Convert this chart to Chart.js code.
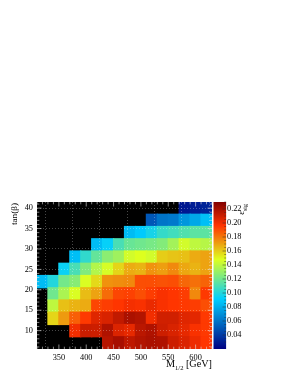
<!DOCTYPE html>
<html><head><meta charset="utf-8">
<script src="https://cdn.jsdelivr.net/npm/chart.js@4"></script>
<style>html,body{margin:0;padding:0;background:#fff}</style>
</head><body>
<canvas id="c" width="287" height="372"></canvas>
<script>
// ---- data ----
const mHalf = [320,340,360,380,400,420,440,460,480,500,520,540,560,580,600,620];
const tanBeta = [40,37,34,31,28,25,22,19,16,13,10,7];
const n = null;
const effTan40 = [n,n,n,n,n,n,n,n,n,n,n,n,n,0.028,0.030,0.032];
const effTan37 = [n,n,n,n,n,n,n,n,n,n,0.050,0.060,0.062,0.072,0.078,0.086];
const effTan34 = [n,n,n,n,n,n,n,n,0.085,0.090,0.097,0.105,0.108,0.112,0.115,0.115];
const effTan31 = [n,n,n,n,n,0.085,0.093,0.110,0.118,0.120,0.122,0.125,0.133,0.145,0.140,0.138];
const effTan28 = [n,n,n,0.086,0.104,0.117,0.127,0.132,0.145,0.148,0.145,0.160,0.162,0.163,0.168,0.170];
const effTan25 = [n,n,0.094,0.110,0.124,0.137,0.146,0.158,0.168,0.166,0.174,0.171,0.176,0.169,0.166,0.170];
const effTan22 = [0.085,0.100,0.121,0.126,0.147,0.157,0.174,0.175,0.176,0.190,0.190,0.189,0.190,0.184,0.182,0.185];
const effTan19 = [n,0.120,0.135,0.147,0.164,0.170,0.183,0.192,0.193,0.190,0.194,0.198,0.196,0.194,0.176,0.195];
const effTan16 = [n,0.140,0.163,0.166,0.168,0.192,0.194,0.196,0.199,0.198,0.202,0.198,0.196,0.195,0.194,0.190];
const effTan13 = [n,0.158,0.172,0.186,0.195,0.205,0.207,0.213,0.219,0.217,0.200,0.209,0.209,0.205,0.204,0.195];
const effTan10 = [n,n,n,0.200,0.211,0.210,0.218,0.206,0.203,0.215,0.218,0.210,0.207,0.203,0.198,0.195];
const effTan7  = [n,n,n,n,n,n,0.216,0.220,0.214,0.217,0.219,0.218,0.210,0.206,0.201,0.196];
const effRowsList = [effTan40,effTan37,effTan34,effTan31,effTan28,effTan25,effTan22,effTan19,effTan16,effTan13,effTan10,effTan7];
const xTicks = [350,400,450,500,550,600];
const yTicks = [10,15,20,25,30,35,40];
const zTicks = [0.04,0.06,0.08,0.10,0.12,0.14,0.16,0.18,0.20,0.22];
const xRange = [310,630];
const yRange = [5.5,41.5];
const zRange = [0.02,0.23];
const xBin = 20, yBin = 3;

// ---- palette ----
const stops=[0,.34,.61,.84,1], PR=[0,0,.87,1,.51], PG=[0,.81,1,.2,0], PB=[.51,1,.12,0,0];
function pal(f){
  f=Math.max(0,Math.min(1,f)); let i=0;
  while(i<stops.length-2 && f>stops[i+1]) i++;
  const t=(f-stops[i])/(stops[i+1]-stops[i]);
  const c=a=>Math.round(255*(a[i]+(a[i+1]-a[i])*t));
  return 'rgb('+c(PR)+','+c(PG)+','+c(PB)+')';
}
function colorFor(v){ return pal((v-zRange[0])/(zRange[1]-zRange[0])); }

const cells=[];
tanBeta.forEach((tb,r)=>effRowsList[r].forEach((v,c)=>{
  if(v!==null) cells.push({x:mHalf[c], y:[tb-yBin/2, tb+yBin/2], v:v});
}));

const FONT='Liberation Serif';
const tickFont={family:FONT,size:8.3};

const framePlugin={
  id:'frame',
  beforeDatasetsDraw(chart){
    const a=chart.chartArea, g=chart.ctx;
    g.save(); g.fillStyle='#000'; g.fillRect(a.left,a.top,a.right-a.left,a.bottom-a.top); g.restore();
  },
  afterDraw(chart){
    const a=chart.chartArea, g=chart.ctx, sx=chart.scales.x, sy=chart.scales.y, sz=chart.scales.z;
    g.save();
    // colour bar
    const bx=a.right+1.5, bw=12.6;
    for(let py=Math.floor(sz.top); py<sz.bottom; py++){
      g.fillStyle=colorFor(sz.getValueForPixel(py+0.5));
      g.fillRect(bx,py,bw,1);
    }
    // ticks
    g.strokeStyle='rgba(225,225,225,0.75)'; g.lineWidth=0.8;
    g.beginPath();
    for(let v=xRange[0]; v<=xRange[1]; v+=10){
      const px=sx.getPixelForValue(v); const L=(v%50===0)?4.5:2.3;
      g.moveTo(px,a.bottom); g.lineTo(px,a.bottom-L);
      g.moveTo(px,a.top); g.lineTo(px,a.top+L);
    }
    for(let v=6; v<=41; v+=1){
      const py=sy.getPixelForValue(v); const L=(v%5===0)?4.5:2.3;
      g.moveTo(a.left,py); g.lineTo(a.left+L,py);
      g.moveTo(a.right,py); g.lineTo(a.right-L,py);
    }
    g.stroke();
    g.strokeStyle='rgba(40,40,40,0.6)';
    g.beginPath();
    for(let v=0.03; v<=0.2301; v+=0.005){
      const py=sz.getPixelForValue(v); const major=Math.abs(Math.round(v*100)%2)===0 && Math.abs(v*100-Math.round(v*100))<1e-6;
      const L=major?3.5:1.8;
      g.moveTo(bx+bw,py); g.lineTo(bx+bw-L,py);
    }
    g.stroke();
    // titles
    g.fillStyle='#000';
    g.textBaseline='alphabetic';
    // y title
    g.save(); g.translate(17,203); g.rotate(-Math.PI/2);
    g.font='9.2px '+FONT; g.textAlign='right'; g.fillText('tan(\u03B2)',0,0); g.restore();
    // x title
    const big='10.2px '+FONT, small='6.6px '+FONT;
    g.font=big; const wM=g.measureText('M').width; const wG=g.measureText(' [GeV]').width;
    g.font=small; const wS=g.measureText('1/2').width;
    let x0=a.right-(wM+wS+wG); const base=367;
    g.textAlign='left';
    g.font=big; g.fillText('M',x0,base); x0+=wM;
    g.font=small; g.fillText('1/2',x0,base+2.6); x0+=wS;
    g.font=big; g.fillText(' [GeV]',x0,base);
    // z title
    g.save(); g.translate(244.5,204); g.rotate(-Math.PI/2);
    g.textAlign='right';
    g.font='6px '+FONT; const wsig=g.measureText('sig').width;
    g.fillText('sig',0,2);
    g.font='9px '+FONT; g.fillText('\u03B5',-wsig,-0.5);
    g.restore();
    g.restore();
  }
};

new Chart(document.getElementById('c'),{
  type:'bar',
  data:{datasets:[{
    data:cells,
    backgroundColor:c=>(c.raw?colorFor(c.raw.v):'#000'),
    borderWidth:0, inflateAmount:0.6,
    barPercentage:1, categoryPercentage:1, grouped:false
  }]},
  options:{
    responsive:false, animation:false, devicePixelRatio:1,
    layout:{padding:{top:202,left:0,right:0,bottom:0}},
    plugins:{legend:{display:false},tooltip:{enabled:false}},
    scales:{
      x:{type:'linear',min:xRange[0],max:xRange[1],offset:false,
        afterBuildTicks:s=>{s.ticks=xTicks.map(v=>({value:v}));},
        afterFit:s=>{s.height=23;},
        grid:{color:'rgba(255,255,255,0.28)',drawTicks:false,z:1},
        border:{display:false,dash:[1,2]},
        ticks:{font:tickFont,color:'#000',padding:3.5,maxRotation:0,autoSkip:false}},
      y:{type:'linear',min:yRange[0],max:yRange[1],
        afterBuildTicks:s=>{s.ticks=yTicks.map(v=>({value:v}));},
        afterFit:s=>{s.width=37;},
        grid:{color:'rgba(255,255,255,0.28)',drawTicks:false,z:1},
        border:{display:false,dash:[1,2]},
        ticks:{font:tickFont,color:'#000',padding:4,autoSkip:false}},
      z:{type:'linear',axis:'y',position:'right',min:zRange[0],max:zRange[1],
        afterBuildTicks:s=>{s.ticks=zTicks.map(v=>({value:v}));},
        afterFit:s=>{s.width=75;},
        grid:{display:false,drawTicks:false},
        border:{display:false},
        ticks:{font:tickFont,color:'#000',padding:15,autoSkip:false,callback:v=>Number(v).toFixed(2)}}
    }
  },
  plugins:[framePlugin]
});
</script>
</body></html>
